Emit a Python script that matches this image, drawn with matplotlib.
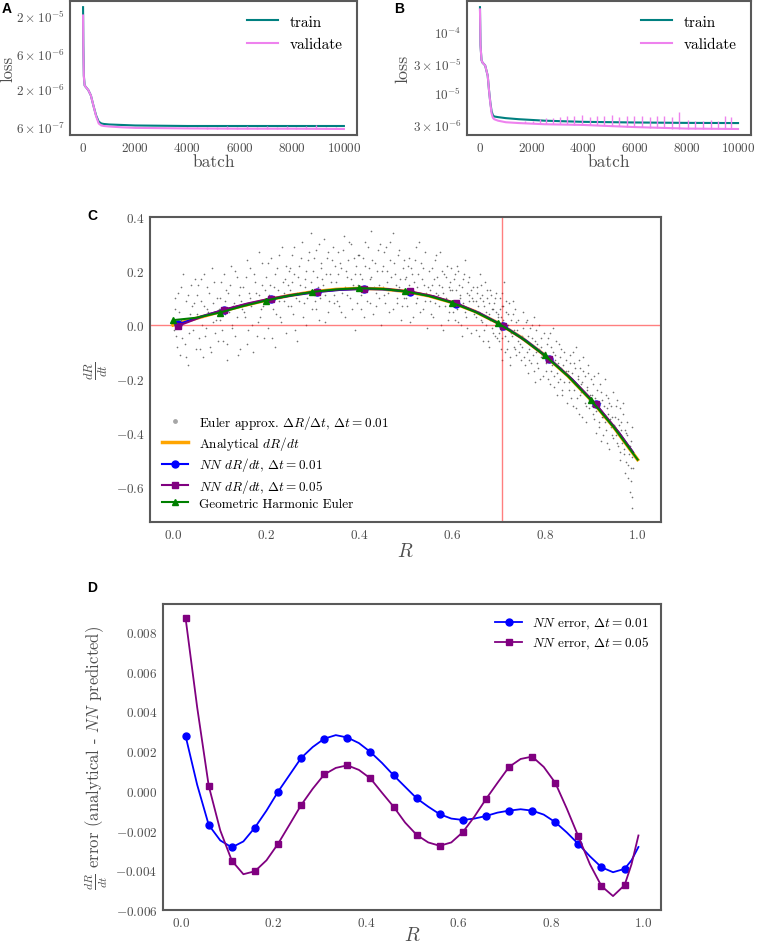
import numpy as np
import matplotlib
matplotlib.use('agg')
import matplotlib.pyplot as plt
from matplotlib.lines import Line2D
from matplotlib.ticker import NullLocator

plt.rcParams['font.family'] = ['cmr10']
plt.rcParams['mathtext.fontset'] = 'cm'
plt.rcParams['axes.formatter.use_mathtext'] = True

# ---- panel A / B : training curves ----
batch_A = [0, 10, 30, 60, 100, 200, 300, 400, 500, 600, 700, 800, 1000, 1500, 2000, 3000, 4000, 6000, 8000, 10000]
train_A = [2.6e-5, 8e-6, 3e-6, 2.2e-6, 2.1e-6, 1.9e-6, 1.6e-6, 1.15e-6, 8.5e-7, 7.0e-7, 6.6e-7, 6.5e-7, 6.4e-7,
           6.3e-7, 6.2e-7, 6.15e-7, 6.1e-7, 6.1e-7, 6.1e-7, 6.1e-7]
val_A = [2.0e-5, 7e-6, 2.9e-6, 2.2e-6, 2.1e-6, 1.9e-6, 1.6e-6, 1.15e-6, 8.3e-7, 6.6e-7, 6.2e-7, 6.1e-7, 6.0e-7,
         5.85e-7, 5.75e-7, 5.7e-7, 5.65e-7, 5.6e-7, 5.6e-7, 5.55e-7]
spike_A_batch = [4000, 4380, 4760, 5140, 5520, 5900, 6280, 6660, 7040, 7420, 7800, 8180, 8560, 8940, 9320, 9700]
spike_A_base = [5.65e-7, 5.65e-7, 5.63e-7, 5.62e-7, 5.62e-7, 5.6e-7, 5.6e-7, 5.6e-7, 5.6e-7, 5.6e-7, 5.6e-7,
                5.58e-7, 5.57e-7, 5.57e-7, 5.56e-7, 5.55e-7]
spike_A_peak = [5.9e-7, 6.0e-7, 6.0e-7, 6.0e-7, 6.05e-7, 6.0e-7, 6.05e-7, 6.0e-7, 6.05e-7, 6.0e-7, 6.05e-7,
                6.0e-7, 6.05e-7, 6.2e-7, 6.0e-7, 6.0e-7]

batch_B = [0, 20, 60, 100, 200, 300, 350, 400, 450, 500, 550, 700, 1000, 1500, 2500, 4000, 6000, 8000, 10000]
train_B = [2.5e-4, 6e-5, 3.4e-5, 3.1e-5, 2.8e-5, 1.9e-5, 1.1e-5, 7e-6, 5e-6, 4.3e-6, 4.1e-6, 4.0e-6, 3.85e-6,
           3.7e-6, 3.5e-6, 3.35e-6, 3.27e-6, 3.22e-6, 3.2e-6]
val_B = [2.3e-4, 6e-5, 3.4e-5, 3.1e-5, 2.8e-5, 1.9e-5, 1.1e-5, 6.8e-6, 4.6e-6, 3.9e-6, 3.7e-6, 3.5e-6, 3.3e-6,
         3.2e-6, 3.06e-6, 2.98e-6, 2.75e-6, 2.6e-6, 2.56e-6]
spike_B_batch = [1750, 2050, 2330, 2570, 2840, 3100, 3360, 3660, 3960, 4250, 4540, 4820, 5120, 5390, 5690,
                 5980, 6270, 6570, 6860, 7130, 7460, 7730, 8060, 8350, 8650, 8950, 9230, 9490, 9740]
spike_B_base = [3.2e-6, 3.15e-6, 3.12e-6, 3.1e-6, 3.08e-6, 3.06e-6, 3.05e-6, 3.03e-6, 3.0e-6, 2.98e-6, 2.95e-6,
                2.92e-6, 2.88e-6, 2.85e-6, 2.8e-6, 2.76e-6, 2.72e-6, 2.68e-6, 2.64e-6, 2.62e-6, 2.6e-6, 2.6e-6,
                2.6e-6, 2.59e-6, 2.58e-6, 2.58e-6, 2.57e-6, 2.57e-6, 2.56e-6]
spike_B_peak = [3.4e-6, 3.5e-6, 3.7e-6, 3.8e-6, 3.9e-6, 4.0e-6, 4.2e-6, 4.1e-6, 4.3e-6, 4.0e-6, 4.2e-6, 4.1e-6,
                4.3e-6, 4.0e-6, 4.2e-6, 4.1e-6, 4.2e-6, 4.0e-6, 4.1e-6, 4.2e-6, 4.0e-6, 4.9e-6, 3.6e-6, 3.5e-6,
                3.4e-6, 3.6e-6, 3.5e-6, 4.1e-6, 4.0e-6]

yticks_A = [2e-5, 6e-6, 2e-6, 6e-7]
yticklabels_A = [r'$2\times10^{-5}$', r'$6\times10^{-6}$', r'$2\times10^{-6}$', r'$6\times10^{-7}$']
yticks_B = [1e-4, 3e-5, 1e-5, 3e-6]
yticklabels_B = [r'$10^{-4}$', r'$3\times10^{-5}$', r'$10^{-5}$', r'$3\times10^{-6}$']
batch_ticks = [0, 2000, 4000, 6000, 8000, 10000]

# ---- panel C : dR/dt ----
R_grid = [0.0, 0.05, 0.1, 0.15, 0.2, 0.25, 0.3, 0.35, 0.4, 0.45, 0.5, 0.55, 0.6, 0.65, 0.7, 0.75, 0.8, 0.85,
          0.9, 0.95, 1.0]
analytical = [0.0, 0.0249, 0.049, 0.0716, 0.092, 0.1094, 0.123, 0.1321, 0.136, 0.1339, 0.125, 0.1086, 0.084,
              0.0504, 0.007, -0.0469, -0.112, -0.1891, -0.279, -0.3824, -0.5]
gh_euler = [0.018, 0.027, 0.046, 0.070, 0.091, 0.109, 0.123, 0.132, 0.137, 0.134, 0.125, 0.108, 0.083, 0.049,
            0.006, -0.048, -0.113, -0.190, -0.280, -0.383, -0.500]
R_nn = [0.01, 0.06, 0.11, 0.16, 0.21, 0.26, 0.31, 0.36, 0.41, 0.46, 0.51, 0.56, 0.61, 0.66, 0.71, 0.76, 0.81,
        0.86, 0.91, 0.96, 0.99]
analytical_nn = [0.0050, 0.0298, 0.0537, 0.0759, 0.0957, 0.1124, 0.1252, 0.1333, 0.1361, 0.1327, 0.1223, 0.1044,
                 0.0780, 0.0425, -0.0029, -0.0590, -0.1264, -0.2061, -0.2986, -0.4047, -0.4753]
vline_R = 0.707

# Euler estimates (grey cloud), estimated from the figure, first sweep
euler_R = [
    .003, .007, .011, .014, .018, .021, .025, .028, .032, .036, .039, .043, .046, .049,
    .052, .055, .058, .061, .064, .067, .070, .073, .076, .079, .083, .086, .090, .094, .098,
    .101, .104, .108, .111, .114, .117, .121, .124, .127, .131, .134, .138, .141, .145, .148,
    .151, .154, .158, .161, .165, .168, .171, .175, .178, .182, .185, .189, .192, .196, .199,
    .201, .204, .207, .211, .214, .217, .220, .224, .227, .231, .234, .238, .241, .244, .247, .249,
    .252, .255, .258, .261, .264, .267, .271, .274, .277, .281, .284, .287, .291, .294, .297, .299,
    .302, .305, .308, .311, .314, .318, .321, .324, .327, .331, .334, .337, .341, .344, .347, .349,
    .351, .354, .357, .361, .364, .367, .371, .374, .377, .381, .384, .387, .391, .394, .397, .399,
    .402, .405, .408, .411, .414, .418, .421, .424, .427, .431, .434, .437, .441, .444, .447, .449,
    .452, .455, .458, .461, .464, .467, .471, .474, .477, .481, .484, .487, .491, .494, .497, .499,
    .501, .504, .507, .510, .513, .516, .519, .522, .525, .528, .531, .534, .537, .540, .543, .546, .549,
    .551, .554, .557, .560, .563, .566, .569, .572, .575, .578, .581, .584, .587, .590, .593, .595, .597, .599,
    .601, .603, .606, .608, .611, .613, .616, .618, .621, .623, .626, .628, .631, .633, .636, .638, .641, .643,
    .646, .648,
    .651, .653, .655, .658, .660, .662, .665, .667, .669, .672, .674, .676, .679, .681, .683, .686, .688, .690,
    .693, .695, .697, .699,
    .700, .702, .704, .706, .707, .708, .709, .711, .713, .715, .717, .719, .721, .724, .726, .728, .731, .733,
    .736, .738, .741, .743, .746, .748,
    .751, .753, .756, .758, .761, .763, .766, .768, .771, .773, .776, .778, .781, .783, .786, .788, .791, .793,
    .796, .798,
    .801, .803, .806, .808, .811, .813, .816, .818, .821, .823, .826, .828, .831, .833, .836, .838, .841, .843,
    .846, .848,
    .851, .853, .855, .858, .860, .862, .865, .867, .869, .872, .874, .876, .879, .881, .883, .886, .888, .890,
    .893, .895, .897, .899,
    .901, .903, .905, .908, .910, .912, .915, .917, .919, .922, .924, .926, .929, .931, .933, .936, .938, .940,
    .943, .945, .947, .949,
    .951, .953, .955, .957, .959, .961, .963, .965, .967, .969, .971, .973, .975, .977, .979, .981, .983, .985,
    .986, .987, .988, .989,
]
euler_dRdt = [
    .06, -.04, .12, -.11, .02, .19, -.07, .09, -.15, .04, .15, -.02, .08, -.09,
    .11, -.05, .03, .17, -.12, .07, -.01, .14, .05, -.08, .21, .01, -.03, .10, .06,
    .02, .16, -.06, .09, .13, -.13, .05, .22, .00, .08, -.04, .18, .11, -.09, .06,
    .14, .03, .24, -.02, .10, .07, -.10, .19, .12, .01, .27, .06, .15, -.05, .09,
    .18, -.01, .11, .25, .06, .14, -.08, .21, .09, .03, .29, .12, .17, -.03, .07, .20,
    .13, .26, .04, .19, .10, -.06, .22, .15, .31, .08, .17, .00, .24, .12, .34, .06,
    .20, .09, .28, .14, .02, .23, .17, .32, .11, .25, .05, .19, .13, .29, .08, .22,
    .16, .27, .07, .21, .12, .33, .03, .18, .24, .10, .30, .15, -.02, .22, .13, .26,
    .19, .06, .25, .14, .31, .09, .21, .17, .35, .04, .23, .12, .28, .15, .00, .20,
    .22, .11, .29, .16, .05, .24, .13, .34, .19, .08, .26, .14, .02, .21, .10, .17,
    .18, .07, .25, .13, .21, .03, .16, .29, .10, .19, .12, .23, .06, .15, .27, -.01, .14,
    .20, .09, .15, .03, .24, .12, .18, .07, .27, .14, -.02, .19, .10, .22, .05, .13, .16, .08,
    .13, .05, .19, .09, .22, .01, .15, .11, -.04, .17, .07, .24, .03, .12, .09, .18, -.03, .10, .14, .04,
    .09, -.02, .14, .05, .19, .02, .11, -.06, .07, .16, .00, .10, .04, -.08, .13, .06, -.03, .08, .01, .12,
    -.05, .03,
    .04, -.06, .10, -.02, .01, .07, -.13, .02, .16, -.04, .05, -.09, .00, .08, -.15, -.03, .04, -.08, .06,
    -.11, -.02, .02, -.07, -.13,
    -.04, .05, -.12, -.06, .02, -.18, -.09, -.01, -.14, -.05, .03, -.21, -.10, -.07, -.16, .00, -.12, -.08,
    -.19, -.03,
    -.10, -.17, -.05, -.13, -.22, -.08, -.15, -.01, -.19, -.11, -.26, -.14, -.07, -.20, -.16, -.24, -.10, -.18,
    -.13, -.29,
    -.17, -.24, -.11, -.20, -.30, -.14, -.22, -.08, -.27, -.19, -.33, -.16, -.25, -.21, -.12, -.29, -.36, -.23,
    -.18, -.31, -.26, -.20,
    -.26, -.33, -.19, -.29, -.40, -.24, -.31, -.36, -.22, -.43, -.28, -.34, -.20, -.39, -.31, -.27, -.46, -.35,
    -.30, -.41, -.25, -.37,
    -.34, -.41, -.28, -.45, -.37, -.31, -.50, -.39, -.44, -.33, -.48, -.55, -.40, -.36, -.52, -.46, -.62, -.43,
    -.58, -.49, -.68, -.53,
]
# second sweep of the cloud
euler_R2 = [
    .001, .005, .009, .013, .016, .020, .024, .027, .031, .035, .041, .047,
    .051, .054, .057, .060, .063, .066, .069, .072, .077, .081, .085, .088, .092, .096,
    .102, .106, .109, .112, .116, .119, .123, .126, .129, .133, .137, .140, .144, .147,
    .152, .156, .159, .163, .166, .170, .173, .176, .180, .184, .187, .191, .194, .197,
    .202, .205, .209, .212, .216, .219, .222, .225, .229, .232, .236, .239, .243, .246, .248,
    .251, .254, .257, .260, .263, .266, .269, .272, .276, .279, .283, .286, .289, .293, .296,
    .301, .304, .307, .310, .313, .316, .319, .322, .326, .329, .333, .336, .339, .343, .346,
    .352, .355, .359, .362, .365, .369, .372, .375, .379, .382, .386, .389, .392, .395, .398,
    .401, .404, .407, .410, .413, .416, .420, .423, .426, .429, .433, .436, .439, .443, .446,
    .451, .454, .457, .460, .463, .466, .469, .473, .476, .479, .483, .486, .489, .493, .496,
    .502, .505, .508, .511, .514, .517, .520, .523, .526, .529, .532, .535, .538, .542, .545,
    .552, .555, .558, .561, .564, .567, .570, .573, .576, .579, .582, .585, .588, .591, .594, .598,
    .602, .604, .607, .609, .612, .614, .617, .619, .622, .624, .627, .629, .632, .634, .637, .639, .642, .645,
    .652, .654, .656, .659, .661, .663, .666, .668, .670, .673, .675, .677, .680, .682, .684, .687, .689, .692,
    .694, .696,
    .701, .703, .705, .706, .707, .708, .710, .712, .714, .716, .718, .720, .722, .725, .727, .729, .732, .734,
    .737, .739, .742, .745,
    .752, .754, .757, .759, .762, .764, .767, .769, .772, .774, .777, .779, .782, .784, .787, .790, .792, .795,
    .802, .804, .807, .809, .812, .814, .817, .819, .822, .824, .827, .829, .832, .834, .837, .839, .842, .845,
    .852, .854, .857, .859, .861, .864, .866, .868, .871, .873, .875, .878, .880, .882, .885, .887, .889, .892,
    .894, .896,
    .902, .904, .907, .909, .911, .914, .916, .918, .921, .923, .925, .928, .930, .932, .935, .937, .939, .942,
    .944, .946,
    .952, .954, .956, .958, .960, .962, .964, .966, .968, .970, .972, .974, .976, .978, .980, .982, .984, .986,
    .987, .988,
]
euler_dRdt2 = [
    -.02, .10, -.08, .05, .14, -.05, .01, -.12, .11, -.03, .07, .17,
    .04, .15, -.09, .09, .00, .19, -.04, .06, .12, -.10, .08, .16, .02, -.06,
    .10, -.02, .19, .04, -.07, .12, .15, -.01, .07, .20, .03, -.11, .14, .09,
    .05, .18, -.07, .12, .21, .00, .08, .16, -.04, .11, .03, .23, .07, .13,
    .08, .23, .15, -.05, .10, .19, .04, .13, .26, .01, .16, .09, .22, .11, .15,
    .21, .07, .16, .29, -.02, .12, .18, .09, .25, .03, .14, .20, .10, .27, .16,
    .12, .25, .06, .18, .30, .10, .21, .15, .01, .19, .27, .09, .16, .24, .11,
    .09, .19, .23, .05, .28, .14, .20, .11, .31, .17, .06, .25, .19, .08, .15,
    .26, .11, .17, .03, .22, .13, .29, .08, .18, .24, .14, .07, .20, .10, .30,
    .14, .27, .08, .20, .12, .31, .18, .06, .23, .15, .10, .28, .17, .07, .24,
    .10, .22, .15, .01, .19, .12, .24, .08, .14, .31, .05, .17, .21, .09, .12,
    .13, .04, .21, .17, .08, .26, .11, .15, .00, .20, .12, .07, .18, .02, .14, .21,
    .08, .17, .02, .13, .06, .20, .10, .00, .14, .08, .19, .05, -.01, .16, .11, .06, .13, .09,
    .03, .12, .07, -.04, .10, .15, .01, .09, -.02, .05, .13, -.06, .08, .02, .11, -.01, .06, .10,
    -.04, .05,
    -.03, .06, -.09, .03, .12, -.05, .07, -.01, -.10, .09, .00, -.06, .04, -.12, .02, -.04, .09, -.02,
    -.09, .01, -.06, -.10,
    -.08, -.01, -.15, .01, -.10, -.04, -.13, -.07, .00, -.11, -.17, -.06, -.02, -.14, -.09, -.20, -.05, -.11,
    -.14, -.07, -.20, -.12, -.03, -.17, -.10, -.23, -.13, -.06, -.18, -.21, -.12, -.09, -.26, -.15, -.21, -.17,
    -.21, -.14, -.27, -.18, -.10, -.24, -.16, -.31, -.20, -.13, -.26, -.22, -.34, -.17, -.25, -.19, -.30, -.24,
    -.15, -.28,
    -.30, -.22, -.35, -.27, -.32, -.18, -.38, -.29, -.25, -.34, -.41, -.30, -.36, -.26, -.44, -.33, -.29, -.38,
    -.34, -.42,
    -.38, -.30, -.44, -.35, -.40, -.47, -.36, -.42, -.29, -.46, -.39, -.51, -.44, -.41, -.57, -.48, -.45, -.53,
    -.38, -.64,
]

# ---- panel D : NN error ----
R_err = [0.01, 0.035, 0.06, 0.085, 0.11, 0.135, 0.16, 0.185, 0.21, 0.235, 0.26, 0.285, 0.31, 0.335, 0.36, 0.385,
         0.41, 0.435, 0.46, 0.485, 0.51, 0.535, 0.56, 0.585, 0.61, 0.635, 0.66, 0.685, 0.71, 0.735, 0.76, 0.785,
         0.81, 0.835, 0.86, 0.885, 0.91, 0.935, 0.96, 0.975, 0.99]
err_dt001 = [0.00275, 0.0003, -0.00172, -0.0025, -0.00285, -0.00255, -0.00185, -0.001, -0.00005, 0.0008,
             0.00165, 0.0022, 0.00262, 0.0028, 0.00268, 0.0024, 0.00195, 0.0014, 0.00078, 0.0002, -0.00038,
             -0.0008, -0.00118, -0.0014, -0.00147, -0.0014, -0.00127, -0.0011, -0.001, -0.00093, -0.001,
             -0.0012, -0.00158, -0.0021, -0.00268, -0.0033, -0.00385, -0.0041, -0.00393, -0.0035, -0.00283]
err_dt005 = [0.00867, 0.0042, 0.00025, -0.002, -0.00352, -0.0042, -0.00405, -0.0035, -0.00267, -0.0017,
             -0.00072, 0.0001, 0.00082, 0.00115, 0.00128, 0.00105, 0.00062, -0.0001, -0.0008, -0.0016, -0.00222,
             -0.0026, -0.00277, -0.0026, -0.00208, -0.0013, -0.00042, 0.0004, 0.0012, 0.0016, 0.00172, 0.0012,
             0.0004, -0.0009, -0.0023, -0.0037, -0.0048, -0.0053, -0.00475, -0.0037, -0.00225]

# NN prediction = analytical - error (at the NN sample points)
nn_dt001 = np.array(analytical_nn) - np.array(err_dt001)[::2]
nn_dt005 = np.array(analytical_nn) - np.array(err_dt005)[::2]

EDGE = '0.35'
TXT = '0.3'


def style(ax, size):
    for s in ax.spines.values():
        s.set_color(EDGE)
        s.set_linewidth(1.5)
    ax.tick_params(length=0, labelsize=size, labelcolor=TXT, pad=4)


fig = plt.figure(figsize=(7.57, 9.45), dpi=100)

# A
axA = fig.add_axes([0.0925, 0.856, 0.379, 0.1418])
axA.plot(batch_A, train_A, color='teal', lw=1.5, label='train')
axA.plot(batch_A, val_A, color='violet', lw=1.5, label='validate')
axA.vlines(spike_A_batch, spike_A_base, spike_A_peak, color='violet', lw=1)
axA.set_yscale('log')
axA.set_yticks(yticks_A)
axA.set_yticklabels(yticklabels_A)
axA.yaxis.set_minor_locator(NullLocator())
axA.set_xticks(batch_ticks)
axA.set_xlabel('batch', fontsize=12.5, color=TXT, labelpad=0)
axA.set_ylabel('loss', fontsize=12, color=TXT, labelpad=0)
style(axA, 9.5)
axA.legend(loc='upper right', frameon=False, fontsize=11, labelspacing=0.6)

# B
axB = fig.add_axes([0.617, 0.856, 0.375, 0.1418])
axB.plot(batch_B, train_B, color='teal', lw=1.5, label='train')
axB.plot(batch_B, val_B, color='violet', lw=1.5, label='validate')
axB.vlines(spike_B_batch, spike_B_base, spike_B_peak, color='violet', lw=1)
axB.set_yscale('log')
axB.set_yticks(yticks_B)
axB.set_yticklabels(yticklabels_B)
axB.yaxis.set_minor_locator(NullLocator())
axB.set_xticks(batch_ticks)
axB.set_xlabel('batch', fontsize=12.5, color=TXT, labelpad=0)
axB.set_ylabel('loss', fontsize=13, color=TXT, labelpad=2)
style(axB, 9.5)
axB.legend(loc='upper right', frameon=False, fontsize=11, labelspacing=0.6)

# C
axC = fig.add_axes([0.198, 0.4466, 0.675, 0.3228])
axC.plot(euler_R, euler_dRdt, '.', color='k', ms=2.4, alpha=0.55, mew=0, zorder=1)
axC.plot(euler_R2, euler_dRdt2, '.', color='k', ms=2.4, alpha=0.55, mew=0, zorder=1)
axC.axhline(0, color='red', alpha=0.5, lw=1, zorder=2)
axC.axvline(vline_R, color='red', alpha=0.5, lw=1, zorder=2)
axC.plot(R_grid, analytical, color='orange', lw=2.5, zorder=3)
axC.plot(R_nn, nn_dt001, color='blue', lw=1.5, marker='o', ms=5, markevery=slice(0, 19, 2), zorder=4)
axC.plot(R_nn, nn_dt005, color='purple', lw=1.5, marker='s', ms=5, markevery=slice(0, 19, 2), zorder=5)
axC.plot(R_grid, gh_euler, color='green', lw=1.5, marker='^', ms=5, markevery=slice(0, 19, 2), zorder=6)
handles = [
    Line2D([], [], ls='none', marker='.', color='k', alpha=0.35, ms=7, mew=0),
    Line2D([], [], color='orange', lw=2.5),
    Line2D([], [], color='blue', lw=1.5, marker='o', ms=5),
    Line2D([], [], color='purple', lw=1.5, marker='s', ms=5),
    Line2D([], [], color='green', lw=1.5, marker='^', ms=5),
]
labels = [r'Euler approx. $\Delta R/\Delta t$, $\Delta t = 0.01$', r'Analytical $dR/dt$',
          r'$NN$ $dR/dt$, $\Delta t = 0.01$', r'$NN$ $dR/dt$, $\Delta t = 0.05$', 'Geometric Harmonic Euler']
axC.legend(handles, labels, loc='lower left', frameon=False, fontsize=9.5, labelspacing=0.25)
axC.set_xticks([0.0, 0.2, 0.4, 0.6, 0.8, 1.0])
axC.set_xlabel('$R$', fontsize=14, color=TXT, labelpad=1)
axC.set_ylabel(r'$\frac{dR}{dt}$', fontsize=13, color=TXT)
style(axC, 9.5)

# D
axD = fig.add_axes([0.2153, 0.036, 0.658, 0.3238])
axD.plot(R_err, err_dt001, color='blue', lw=1.3, marker='o', ms=5, markevery=slice(0, 39, 2),
         label=r'$NN$ error, $\Delta t = 0.01$')
axD.plot(R_err, err_dt005, color='purple', lw=1.3, marker='s', ms=5, markevery=slice(0, 39, 2),
         label=r'$NN$ error, $\Delta t = 0.05$')
axD.legend(loc='upper right', frameon=False, fontsize=9.5, labelspacing=0.3)
axD.set_ylim(-0.006, 0.0094)
axD.set_xticks([0.0, 0.2, 0.4, 0.6, 0.8, 1.0])
axD.set_xlabel('$R$', fontsize=14, color=TXT, labelpad=-2)
axD.set_ylabel(r'$\frac{dR}{dt}$ error (analytical - $NN$ predicted)', fontsize=12, color=TXT)
style(axD, 9.5)

for lab, x, y in [('A', 7, 9), ('B', 399, 9), ('C', 92, 216), ('D', 92, 588)]:
    fig.text(x / 757, 1 - y / 945, lab, family='Liberation Sans', fontweight='bold', fontsize=10,
             ha='center', va='center')

fig.savefig('out.png', dpi=100)
